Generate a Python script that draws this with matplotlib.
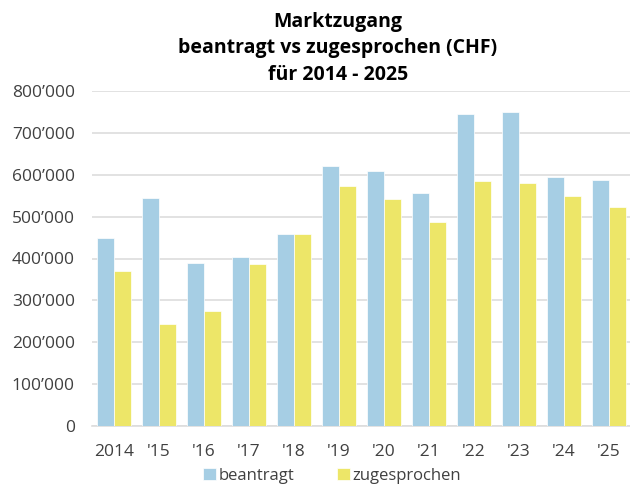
import numpy as np
import matplotlib.pyplot as plt
from matplotlib.ticker import FuncFormatter

plt.rcParams['font.family'] = ['Open Sans', 'DejaVu Sans']

years        = ['2014', "'15", "'16", "'17", "'18", "'19", "'20", "'21", "'22", "'23", "'24", "'25"]
beantragt    = [448000, 544000, 389000, 404000, 459000, 621000, 608000, 556000, 744000, 749000, 594000, 588000]
zugesprochen = [371000, 243000, 275000, 387000, 459000, 572000, 543000, 486000, 585000, 580000, 549000, 523000]

BLUE, YELLOW = '#A6CEE4', '#EDE668'

fig = plt.figure(figsize=(6.3, 4.84), dpi=100)
ax = fig.add_axes([91.5 / 630, 58 / 484, 540 / 630, 335 / 484])

x = np.arange(len(years))
w = 0.385
ax.bar(x - w / 2, beantragt, w, color=BLUE, edgecolor='white', linewidth=0.5, label='beantragt', zorder=3)
ax.bar(x + w / 2, zugesprochen, w, color=YELLOW, edgecolor='white', linewidth=0.5, label='zugesprochen', zorder=3)

ax.set_xlim(-0.5, len(years) - 0.5)
ax.set_ylim(0, 800000)
ax.set_yticks(np.arange(0, 800001, 100000))
ax.yaxis.set_major_formatter(FuncFormatter(lambda v, p: '0' if v == 0 else f"{int(v):,}".replace(',', '\u2019')))
ax.set_xticks(x)
ax.set_xticklabels(years)
ax.grid(axis='y', color='#DDDDDD', linewidth=1.2, zorder=0)
for s in ['top', 'right', 'left']:
    ax.spines[s].set_visible(False)
ax.spines['bottom'].set_color('#DDDDDD')
ax.spines['bottom'].set_linewidth(1.2)
ax.tick_params(length=0, labelsize=12.5, colors='#404040')
ax.tick_params(axis='x', pad=13)
ax.tick_params(axis='y', pad=12)

fig.text(338 / 630, 1 - 80 / 484, 'Marktzugang\nbeantragt vs zugesprochen (CHF)\nfür 2014 - 2025',
         ha='center', va='baseline', fontsize=14, fontweight='bold', linespacing=1.45)

fig.legend(loc='center', bbox_to_anchor=(332 / 630, 1 - 476 / 484), ncol=2, frameon=False,
           fontsize=12, handlelength=0.75, handleheight=0.75, handletextpad=0.15, columnspacing=2.6,
           labelcolor='#404040')

fig.savefig('out.png', dpi=100)
